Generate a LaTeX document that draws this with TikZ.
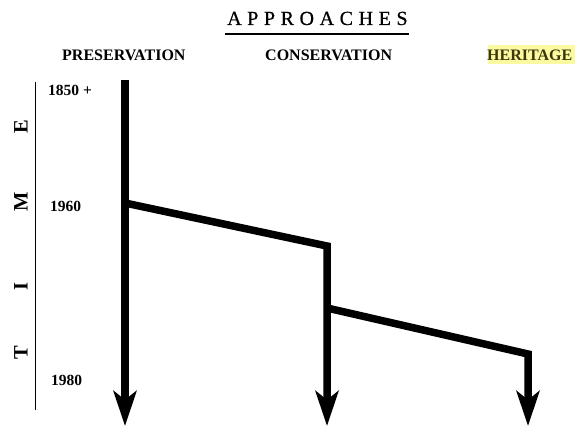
\documentclass[tikz,border=0pt]{standalone}
\usepackage{fontspec}
\setmainfont{Liberation Serif}
\usetikzlibrary{arrows.meta}
\definecolor{hiyellow}{RGB}{252,250,160}
\definecolor{olivetext}{RGB}{60,55,10}
\tikzset{
  head/.style={font=\bfseries\fontsize{16}{19}\selectfont, inner sep=0pt, anchor=base west},
  datelbl/.style={font=\bfseries\fontsize{15.5}{18}\selectfont, inner sep=0pt, anchor=base west},
  timelbl/.style={font=\bfseries\fontsize{20.5}{24}\selectfont, inner sep=0pt, rotate=90},
  flow/.style={line width=7.5pt, line join=miter, -{Stealth[length=35pt,width=23pt,inset=9pt]}},
}
\begin{document}
\begin{tikzpicture}[x=1pt,y=-1pt]
\useasboundingbox (0,0) rectangle (575,427);
% title
\node[inner sep=0pt, anchor=base west, font=\fontsize{20}{23}\selectfont\addfontfeature{LetterSpace=28,FakeBold=0.6}] (title) at (227,25) {APPROACHES};
\coordinate (ul1) at (225,34);
\coordinate (ul2) at (409,34);
\draw[line width=2pt] (ul1) -- (ul2);
% headings
\node[head] (pres) at (62,61) {PRESERVATION};
\node[head] (cons) at (265,61) {CONSERVATION};
\fill[hiyellow] (488,45) rectangle (575,64);
\node[head, text=olivetext] (her) at (487,61) {HERITAGE};
% time axis
\coordinate (ax1) at (35,82);
\coordinate (ax2) at (35,410);
\draw[line width=0.8pt] (ax1) -- (ax2);
\node[timelbl] (tE) at (21,127) {E};
\node[timelbl] (tM) at (21,202) {M};
\node[timelbl] (tI) at (21,287) {I};
\node[timelbl] (tT) at (21,353) {T};
\node[datelbl] (d1850) at (48,96) {1850 +};
\node[datelbl] (d1960) at (50,212) {1960};
\node[datelbl] (d1980) at (51,385) {1980};
% flows
\coordinate (p0) at (125,80);
\coordinate (p1) at (125,426);
\coordinate (b1) at (125,203);
\coordinate (c1) at (327,246);
\coordinate (c2) at (327,426);
\coordinate (b2) at (327,308);
\coordinate (h1) at (528,354);
\coordinate (h2) at (528,426);
\draw[flow] (p0) -- (p1);
\draw[flow] (b1) -- (c1) -- (c2);
\draw[flow] (b2) -- (h1) -- (h2);
\end{tikzpicture}
\end{document}
